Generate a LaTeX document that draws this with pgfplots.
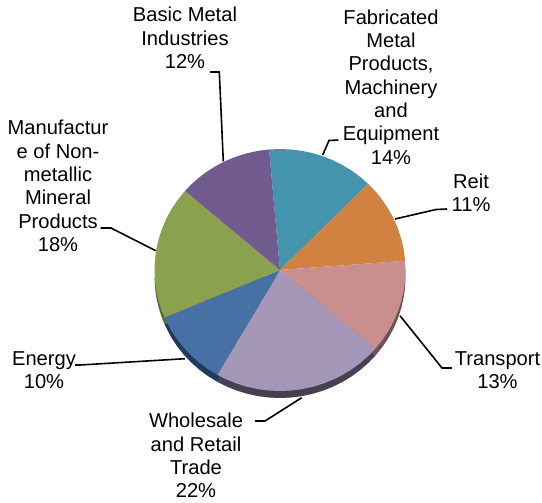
\documentclass[border=0pt]{standalone}
\usepackage{pgfplots}
\pgfplotsset{compat=1.18}
\usepackage{fontspec}
\setmainfont{Liberation Sans}
\definecolor{cTeal}{HTML}{4594AD}
\definecolor{cOrange}{HTML}{D28240}
\definecolor{cPink}{HTML}{C98F8E}
\definecolor{cLilac}{HTML}{A597B8}
\definecolor{cBlue}{HTML}{4771A4}
\definecolor{cGreen}{HTML}{8AA24F}
\definecolor{cPurple}{HTML}{715A8E}
\definecolor{sPink}{HTML}{6E5152}
\definecolor{sLilac}{HTML}{47404F}
\definecolor{sBlue}{HTML}{1F3A5C}
\definecolor{sGreen}{HTML}{5B6E30}
\newcommand{\lbl}[3]{\node[align=center,inner sep=0pt,font=\fontsize{20.2}{23.4}\selectfont] at (axis cs:#1,#2) {#3};}
\begin{document}
\begin{tikzpicture}
\begin{axis}[name=pie,at={(0,0)},anchor=south west,scale only axis,width=542bp,height=503bp,hide axis,
  xmin=-2.2311,xmax=2.0876,ymin=-1.9256,ymax=2.2314,clip=false]
% side of the pie, shifted down
\addplot[fill=sPink,draw=none,data cs=polar,yshift=-7bp] coordinates {(0,0)(4.4,1)(0,1)(-5,1)(-10,1)(-15,1)(-20,1)(-25,1)(-30,1)(-35,1)(-40.5,1)(0,0)};
\addplot[fill=sLilac,draw=none,data cs=polar,yshift=-7bp] coordinates {(0,0)(-40.5,1)(-45,1)(-50,1)(-55,1)(-60,1)(-65,1)(-70,1)(-75,1)(-80,1)(-85,1)(-90,1)(-95,1)(-100,1)(-105,1)(-110,1)(-115,1)(-120,1)(0,0)};
\addplot[fill=sBlue,draw=none,data cs=polar,yshift=-7bp] coordinates {(0,0)(-120,1)(-125,1)(-130,1)(-135,1)(-140,1)(-145,1)(-150,1)(-156.9,1)(0,0)};
\addplot[fill=sGreen,draw=none,data cs=polar,yshift=-7bp] coordinates {(0,0)(-156.9,1)(-160,1)(-165,1)(-170,1)(-175,1)(-180,1)(0,0)};
% top of the pie
\addplot[fill=cTeal,draw=none,data cs=polar] coordinates {(0,0)(95,1)(90,1)(85,1)(80,1)(75,1)(70,1)(65,1)(60,1)(55,1)(50,1)(45.4,1)(0,0)};
\addplot[fill=cOrange,draw=none,data cs=polar] coordinates {(0,0)(45.4,1)(40,1)(35,1)(30,1)(25,1)(20,1)(15,1)(10,1)(4.4,1)(0,0)};
\addplot[fill=cPink,draw=none,data cs=polar] coordinates {(0,0)(4.4,1)(0,1)(-5,1)(-10,1)(-15,1)(-20,1)(-25,1)(-30,1)(-35,1)(-40.5,1)(0,0)};
\addplot[fill=cLilac,draw=none,data cs=polar] coordinates {(0,0)(-40.5,1)(-45,1)(-50,1)(-55,1)(-60,1)(-65,1)(-70,1)(-75,1)(-80,1)(-85,1)(-90,1)(-95,1)(-100,1)(-105,1)(-110,1)(-115,1)(-120,1)(0,0)};
\addplot[fill=cBlue,draw=none,data cs=polar] coordinates {(0,0)(-120,1)(-125,1)(-130,1)(-135,1)(-140,1)(-145,1)(-150,1)(-156.9,1)(0,0)};
\addplot[fill=cGreen,draw=none,data cs=polar] coordinates {(0,0)(-156.9,1)(-160,1)(-165,1)(-170,1)(-175,1)(-180,1)(-185,1)(-190,1)(-195,1)(-200,1)(-205,1)(-210,1)(-215,1)(-220.8,1)(0,0)};
\addplot[fill=cPurple,draw=none,data cs=polar] coordinates {(0,0)(139.2,1)(135,1)(130,1)(125,1)(120,1)(115,1)(110,1)(105,1)(100,1)(95,1)(0,0)};
\end{axis}
\begin{axis}[at={(0,0)},anchor=south west,scale only axis,width=542bp,height=503bp,hide axis,
  xmin=0,xmax=542,ymin=0,ymax=503,y dir=reverse,clip=false]
\path (axis cs:0,0) rectangle (axis cs:542,503);
% leader lines
\addplot[black,line width=1.6pt] coordinates {(210,72)(219.3,72)(223.3,161.3)};
\addplot[black,line width=1.6pt] coordinates {(338.3,140)(329,140.5)(322.7,155)};
\addplot[black,line width=1.6pt] coordinates {(447,209)(436,209.5)(395,219)};
\addplot[black,line width=1.6pt] coordinates {(452,368)(442,368)(400,315.7)};
\addplot[black,line width=1.6pt] coordinates {(255,421)(265,421)(301.7,397.7)};
\addplot[black,line width=1.6pt] coordinates {(75,365)(80,365)(185,358.7)};
\addplot[black,line width=1.6pt] coordinates {(100.7,228)(111,228)(155.7,250.7)};
% labels
\lbl{185}{38}{Basic Metal\\Industries\\12\%}
\lbl{391}{87}{Fabricated\\Metal\\Products,\\Machinery\\and\\Equipment\\14\%}
\lbl{471}{192.5}{Reit\\11\%}
\lbl{497.5}{370.5}{Transport\\13\%}
\lbl{196}{455.5}{Wholesale\\and Retail\\Trade\\22\%}
\lbl{44}{370}{Energy\\10\%}
\lbl{58}{186}{Manufactur\\e of Non-\\metallic\\Mineral\\Products\\18\%}
\end{axis}
\end{tikzpicture}
\end{document}
